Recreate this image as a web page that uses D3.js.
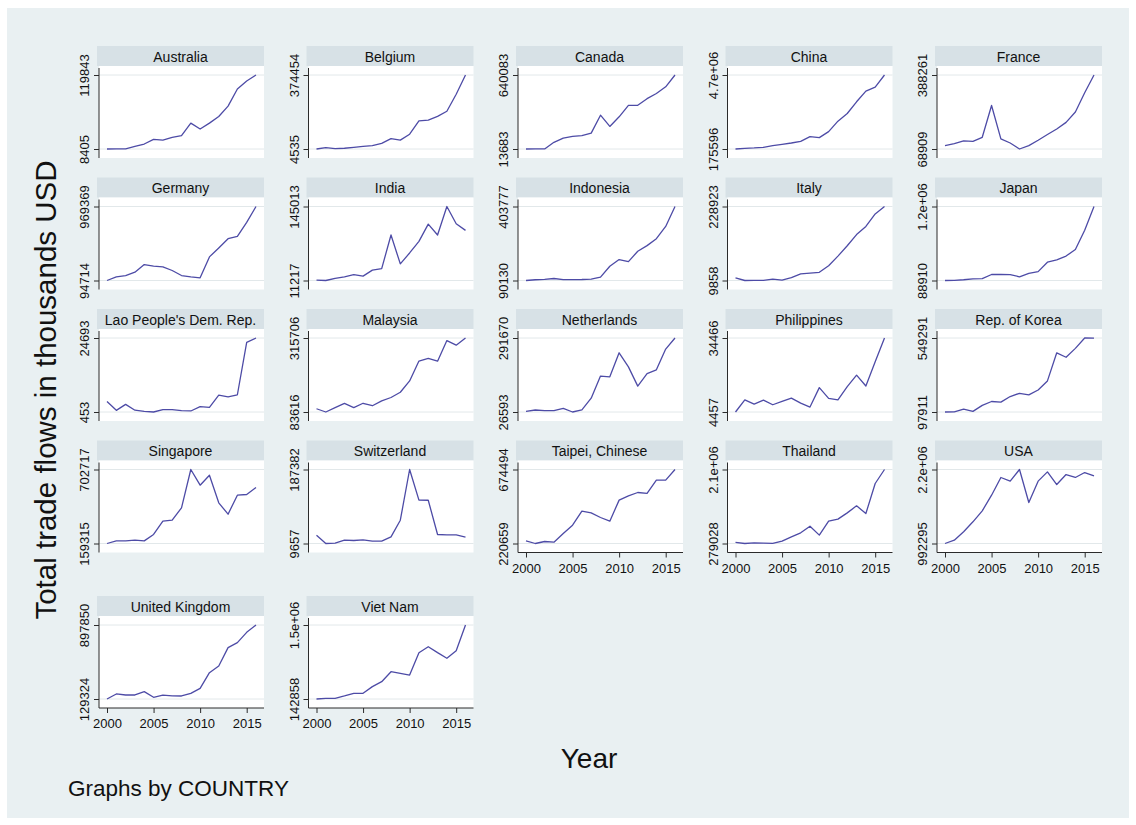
<!DOCTYPE html>
<html><head><meta charset="utf-8">
<script src="https://cdn.jsdelivr.net/npm/d3@7"></script>
<style>
body{margin:0;background:#fff;}
svg{display:block;font-family:"Liberation Sans",Arial,Helvetica,sans-serif;}
</style>
</head><body>
<svg id="chart" width="1136" height="825"></svg>
<script>
const years = [2000,2001,2002,2003,2004,2005,2006,2007,2008,2009,2010,2011,2012,2013,2014,2015,2016];
const xTicks = [2000,2005,2010,2015];
const countries = ["Australia","Belgium","Canada","China","France","Germany","India","Indonesia","Italy","Japan",
  "Lao People's Dem. Rep.","Malaysia","Netherlands","Philippines","Rep. of Korea","Singapore","Switzerland",
  "Taipei, Chinese","Thailand","USA","United Kingdom","Viet Nam"];

const australia   = [8405,8600,8700,12400,15900,22900,21800,25900,28500,47400,38500,47400,57400,73000,98700,110900,119843];
const belgium     = [4535,11200,6000,8200,12700,17900,21200,32600,56300,48900,78500,145100,148800,167300,193200,278300,374454];
const canada      = [13683,13900,14100,70100,106400,120200,126400,148400,299900,204700,286200,383300,383800,439600,483500,539900,640083];
const china       = [175596,216300,238900,279700,379200,460600,542100,646100,931200,872400,1238800,1876800,2347300,3062200,3718200,3962500,4700000];
const france      = [83300,91900,103700,102100,119400,256700,112300,94800,68909,83300,106600,131200,155100,183900,228600,311600,388261];
const germany     = [94714,138400,153300,192700,282800,263500,255700,212800,153300,137600,126200,373700,479600,588900,616000,781300,969369];
const india       = [11900,11217,15200,17900,21900,19200,29900,32600,93500,41200,61000,82000,113200,93400,145013,113800,101800];
const indonesia   = [90130,93300,94800,98600,94200,94000,94300,95800,104200,150700,178900,170400,214000,237900,267300,319400,403777];
const italy       = [17500,9858,10100,10300,14200,11000,18600,29600,31800,34000,53700,82100,112800,145700,169800,207000,228923];
const japan       = [88910,91000,100000,114500,116700,178900,181100,177800,144500,194500,222200,363300,400000,455600,555600,844500,1200000];
const lao         = [3900,1000,2950,1050,670,453,1230,1200,910,790,2200,1980,5950,5420,6100,23240,24693];
const malaysia    = [93800,83616,97100,110500,97500,111000,103300,118700,129100,145600,181100,243500,251900,243000,307600,293200,315706];
const netherlands = [29200,33700,31400,31500,39600,26593,33900,76200,155200,152500,238700,188300,119400,164400,177700,251900,291670];
const philippines = [4457,9380,7670,9300,7400,8720,10070,8060,6470,14330,10000,9400,14720,19400,14990,24860,34466];
const korea       = [97911,98800,116000,102000,138100,162000,157900,192300,212100,202200,232400,287500,459000,431900,486100,549291,549000];
const singapore   = [159315,178900,179000,183800,178500,225600,323400,330500,421200,702717,587500,660900,458200,374500,514200,519000,570700];
const switzerland = [29700,9657,10500,17700,16900,18500,15300,15500,25700,65600,187382,113800,113500,31300,30500,30400,24900];
const taipei      = [237000,220659,232900,228800,281900,333200,419000,408500,380000,357700,486600,512900,533400,527500,609100,609500,674494];
const thailand    = [304500,279028,295400,288100,284500,337300,442900,541200,705100,484800,829000,878100,1032900,1205900,1016500,1755800,2100000];
const usa         = [992295,1046600,1183100,1346200,1524900,1780900,2069600,2009200,2200000,1661400,2010000,2161400,1954800,2117900,2070000,2150500,2096100];
const uk          = [129324,181600,170800,171000,205400,147000,170500,160800,160500,188500,240000,402900,472100,662700,714200,821800,897850];
const vietnam     = [142858,155100,155500,198500,247400,248000,369500,460400,643600,613800,582600,992400,1102400,993000,889300,1029100,1500000];

const series = [australia,belgium,canada,china,france,germany,india,indonesia,italy,japan,lao,malaysia,
  netherlands,philippines,korea,singapore,switzerland,taipei,thailand,usa,uk,vietnam];

const yTickLabels = [["8405","119843"],["4535","374454"],["13683","640083"],["175596","4.7e+06"],["68909","388261"],
  ["94714","969369"],["11217","145013"],["90130","403777"],["9858","228923"],["88910","1.2e+06"],
  ["453","24693"],["83616","315706"],["26593","291670"],["4457","34466"],["97911","549291"],
  ["159315","702717"],["9657","187382"],["220659","674494"],["279028","2.1e+06"],["992295","2.2e+06"],
  ["129324","897850"],["142858","1.5e+06"]];

const xAxisPanels = ["Taipei, Chinese","Thailand","USA","United Kingdom","Viet Nam"];

// layout
const BG = "#e9f0f2", STRIP = "#d7e1e6", LINE = "#4d4ba6", AXIS = "#2b2b2b", GRID = "#e2e8ea";
const colLeft = i => 97 + i * 209.5;
const rowTopTick = [75, 206.5, 338, 469.5, 625];
const panelW = 167, span = 74;

const svg = d3.select("#chart");
svg.append("rect").attr("x",7).attr("y",8).attr("width",1122).attr("height",810).attr("fill",BG);

countries.forEach((name, k) => {
  const r = Math.floor(k / 5), c = k % 5;
  const sx = colLeft(c), tt = rowTopTick[r];
  const vals = series[k];
  const ext = d3.extent(vals);
  const x = d3.scaleLinear().domain([2000, 2016]).range([sx + 10, sx + 159]);
  const y = d3.scaleLinear().domain(ext).range([tt + span, tt]);
  const g = svg.append("g");

  g.append("rect").attr("x", sx).attr("y", tt - 29).attr("width", panelW).attr("height", 20).attr("fill", STRIP);
  g.append("text").attr("x", sx + panelW / 2).attr("y", tt - 13.5).attr("text-anchor","middle")
    .attr("font-size", 14).attr("fill","#111").text(name);

  g.append("rect").attr("x", sx + 2).attr("y", tt - 9).attr("width", panelW - 2).attr("height", 92).attr("fill","#fff");

  // grid lines
  g.selectAll("line.grid").data(ext).enter().append("line")
    .attr("x1", sx + 2).attr("x2", sx + panelW).attr("y1", d => y(d)).attr("y2", d => y(d))
    .attr("stroke", GRID).attr("stroke-width", 1);

  // y axis
  const ya = g.append("g").attr("transform", `translate(${sx + 2},0)`)
    .call(d3.axisLeft(y).tickValues(ext).tickFormat((d, i) => yTickLabels[k][i]).tickSize(5).tickSizeOuter(0));
  ya.select(".domain").remove();
  ya.selectAll(".tick line").attr("stroke", AXIS);
  ya.selectAll(".tick text").attr("transform","rotate(-90)").attr("x", 0).attr("y", -10).attr("dy", 0)
    .attr("text-anchor","middle").attr("font-size", 13).attr("font-family", null).attr("fill","#111");
  g.append("line").attr("x1", sx + 2).attr("x2", sx + 2).attr("y1", tt - 7).attr("y2", tt + 83)
    .attr("stroke", AXIS).attr("stroke-width", 1);

  // x axis
  if (xAxisPanels.includes(name)) {
    const xa = g.append("g").attr("transform", `translate(0,${tt + 83})`)
      .call(d3.axisBottom(x).tickValues(xTicks).tickFormat(d3.format("d")).tickSize(5).tickPadding(6).tickSizeOuter(0));
    xa.select(".domain").remove();
    xa.selectAll(".tick line").attr("stroke", AXIS);
    xa.selectAll(".tick text").attr("font-size", 13).attr("font-family", null).attr("fill","#111");
    g.append("line").attr("x1", sx + 2).attr("x2", sx + panelW).attr("y1", tt + 83).attr("y2", tt + 83)
      .attr("stroke", AXIS).attr("stroke-width", 1);
  }

  const line = d3.line().x((d, i) => x(years[i])).y(d => y(d));
  g.append("path").datum(vals).attr("d", line).attr("fill","none")
    .attr("stroke", LINE).attr("stroke-width", 1.3).attr("stroke-linejoin","round");
});

svg.append("text").attr("transform","translate(56,390) rotate(-90)").attr("text-anchor","middle")
  .attr("font-size", 29.5).attr("fill","#111").text("Total trade flows in thousands USD");
svg.append("text").attr("x", 589).attr("y", 768).attr("text-anchor","middle")
  .attr("font-size", 28).attr("fill","#111").text("Year");
svg.append("text").attr("x", 68).attr("y", 796)
  .attr("font-size", 22.5).attr("fill","#111").text("Graphs by COUNTRY");
</script>
</body></html>
